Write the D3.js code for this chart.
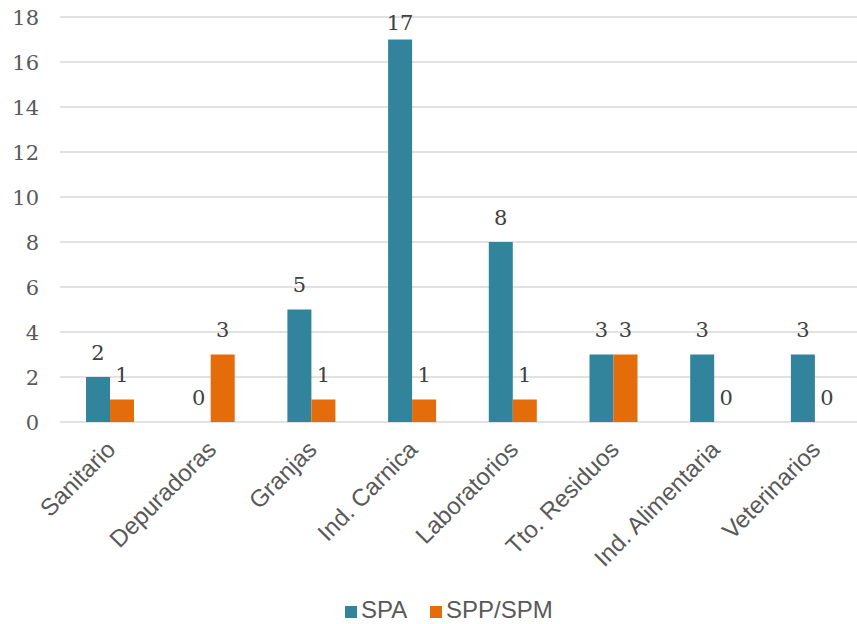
<!DOCTYPE html>
<html>
<head>
<meta charset="utf-8">
<script src="https://cdn.jsdelivr.net/npm/d3@7"></script>
<style>
  html, body { margin: 0; padding: 0; background: #ffffff; }
  svg { display: block; }
</style>
</head>
<body>
<svg id="chart" width="857" height="624"></svg>
<script>
// Número de casos por sector y tipo de servicio
const categories = ["Sanitario", "Depuradoras", "Granjas", "Ind. Carnica", "Laboratorios", "Tto. Residuos", "Ind. Alimentaria", "Veterinarios"];
const seriesNames = ["SPA", "SPP/SPM"];
const spaValues = [2, 0, 5, 17, 8, 3, 3, 3];
const sppValues = [1, 3, 1, 1, 1, 3, 0, 0];
const yTicks = [0, 2, 4, 6, 8, 10, 12, 14, 16, 18];

const colors = { "SPA": "#31849B", "SPP/SPM": "#E46C0A" };

const svg = d3.select("#chart");
const W = 857;

const plot = { left: 59.65, right: 865.25, top: 17, bottom: 422 };

const x0 = d3.scaleBand().domain(categories).range([plot.left, plot.right]).padding(0);
const groupW = 48;
const x1 = d3.scaleBand().domain(seriesNames)
  .range([(x0.bandwidth() - groupW) / 2, (x0.bandwidth() + groupW) / 2]).padding(0);
const y = d3.scaleLinear().domain([0, 18]).range([plot.bottom, plot.top]);

const rows = categories.map((c, i) => ({
  cat: c,
  values: [
    { key: "SPA", value: spaValues[i] },
    { key: "SPP/SPM", value: sppValues[i] }
  ]
}));

// Gridlines
svg.append("g")
  .selectAll("line")
  .data(yTicks)
  .join("line")
  .attr("x1", 60)
  .attr("x2", W)
  .attr("y1", d => y(d))
  .attr("y2", d => y(d))
  .attr("stroke", "#D9D9D9")
  .attr("stroke-width", 1.5);

// Y-axis tick labels
svg.append("g")
  .selectAll("text")
  .data(yTicks)
  .join("text")
  .attr("x", 39)
  .attr("y", d => y(d))
  .attr("dy", "0.36em")
  .attr("text-anchor", "end")
  .attr("font-family", "'DejaVu Serif', serif")
  .attr("font-size", 21)
  .attr("fill", "#595959")
  .text(d => d);

// Bars
const groups = svg.append("g")
  .selectAll("g")
  .data(rows)
  .join("g")
  .attr("transform", d => `translate(${x0(d.cat)},0)`);

groups.selectAll("rect")
  .data(d => d.values)
  .join("rect")
  .attr("x", d => x1(d.key))
  .attr("width", x1.bandwidth())
  .attr("y", d => y(d.value))
  .attr("height", d => y(0) - y(d.value))
  .attr("fill", d => colors[d.key]);

// Value labels, kept inside the plot area
groups.selectAll("text")
  .data(d => d.values)
  .join("text")
  .attr("x", d => x1(d.key) + x1.bandwidth() / 2)
  .attr("y", d => Math.max(y(d.value) - 17.5, y(18) + 13))
  .attr("text-anchor", "middle")
  .attr("font-family", "'DejaVu Serif', serif")
  .attr("font-size", 21)
  .attr("fill", "#404040")
  .text(d => d.value);

// Category labels, rotated
svg.append("g")
  .selectAll("text")
  .data(categories)
  .join("text")
  .attr("transform", d => `translate(${x0(d) + x0.bandwidth() / 2 + 1},${plot.bottom + 23}) rotate(-45)`)
  .attr("dy", "0.35em")
  .attr("text-anchor", "end")
  .attr("font-family", "'Liberation Sans', Arial, sans-serif")
  .attr("font-size", 24)
  .attr("fill", "#595959")
  .text(d => d);

// Legend
const legendItems = [
  { key: "SPA", sx: 345, tx: 361 },
  { key: "SPP/SPM", sx: 430, tx: 446 }
];
const legend = svg.append("g");
legend.selectAll("rect")
  .data(legendItems)
  .join("rect")
  .attr("x", d => d.sx)
  .attr("y", 606)
  .attr("width", 12)
  .attr("height", 12)
  .attr("fill", d => colors[d.key]);
legend.selectAll("text")
  .data(legendItems)
  .join("text")
  .attr("x", d => d.tx)
  .attr("y", 618)
  .attr("font-family", "'Liberation Sans', Arial, sans-serif")
  .attr("font-size", 24)
  .attr("fill", "#595959")
  .text(d => d.key);
</script>
</body>
</html>
